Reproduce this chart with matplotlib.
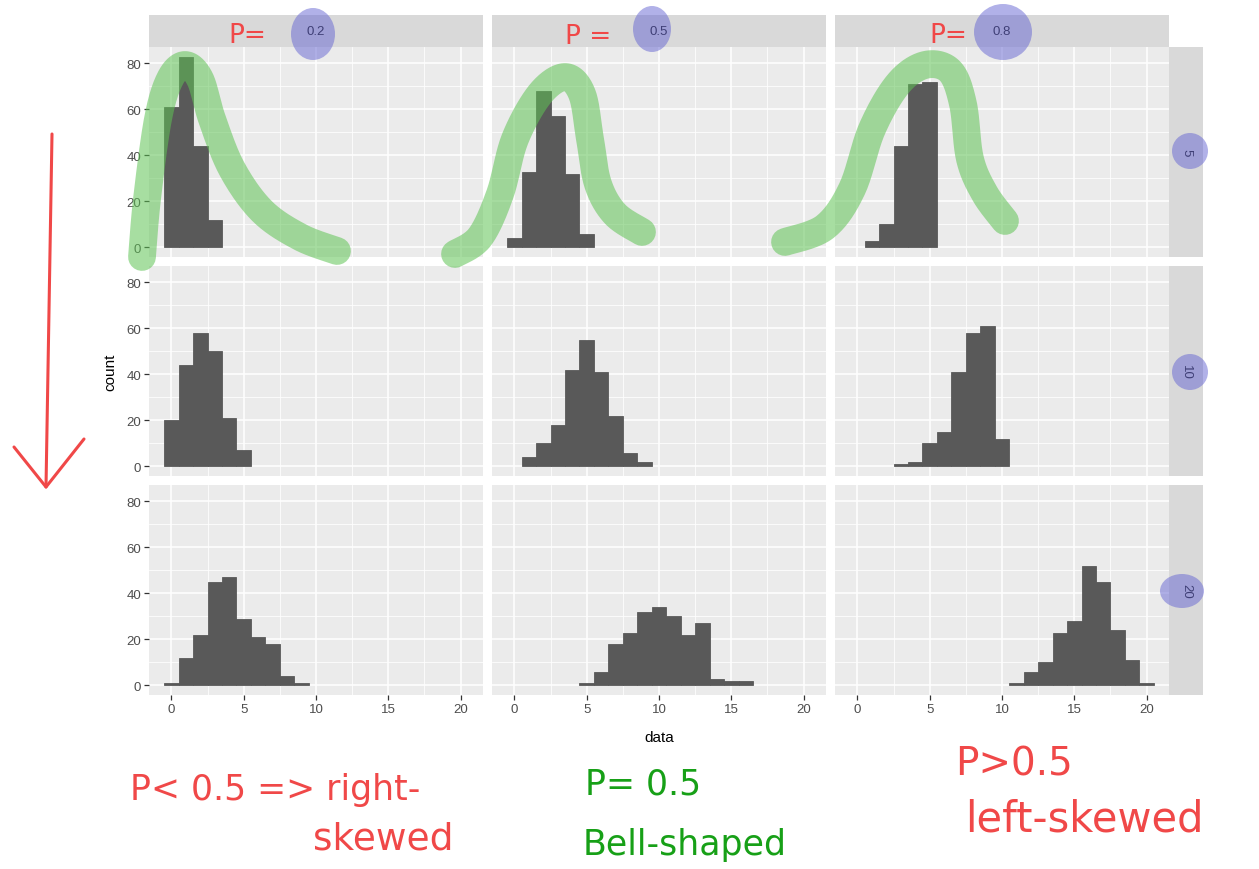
import numpy as np
import matplotlib
matplotlib.use("Agg")
import matplotlib.pyplot as plt
from matplotlib.patches import Ellipse

# ---------------- data (counts per integer value, binwidth 1) ----------------
p_labels = ["0.2", "0.5", "0.8"]
n_labels = ["5", "10", "20"]

# start value of first bar for each (n, p) facet
starts = {
    ("5", "0.2"): 0, ("5", "0.5"): 0, ("5", "0.8"): 1,
    ("10", "0.2"): 0, ("10", "0.5"): 1, ("10", "0.8"): 3,
    ("20", "0.2"): 0, ("20", "0.5"): 5, ("20", "0.8"): 11,
}
counts_n5_p02 = [61, 83, 44, 12]
counts_n5_p05 = [4, 33, 68, 57, 32, 6]
counts_n5_p08 = [3, 10, 44, 71, 72]
counts_n10_p02 = [20, 44, 58, 50, 21, 7]
counts_n10_p05 = [4, 10, 18, 42, 55, 41, 22, 6, 2]
counts_n10_p08 = [1, 2, 10, 15, 41, 58, 61, 12]
counts_n20_p02 = [1, 12, 22, 45, 47, 29, 21, 18, 4, 1]
counts_n20_p05 = [1, 6, 18, 23, 32, 34, 30, 22, 27, 3, 2, 2]
counts_n20_p08 = [1, 6, 10, 23, 28, 52, 45, 24, 11, 1]
counts = {
    ("5", "0.2"): counts_n5_p02, ("5", "0.5"): counts_n5_p05, ("5", "0.8"): counts_n5_p08,
    ("10", "0.2"): counts_n10_p02, ("10", "0.5"): counts_n10_p05, ("10", "0.8"): counts_n10_p08,
    ("20", "0.2"): counts_n20_p02, ("20", "0.5"): counts_n20_p05, ("20", "0.8"): counts_n20_p08,
}
x_ticks = [0, 5, 10, 15, 20]
y_ticks = [0, 20, 40, 60, 80]

plt.rcParams["font.family"] = ["Liberation Sans", "DejaVu Sans"]

# ---------------- layout ----------------
W, H = 1259, 870
fig = plt.figure(figsize=(W / 100, H / 100), dpi=100)
fig.patch.set_facecolor("white")

def rect(x0, y0, x1, y1):
    return [x0 / W, 1 - y1 / H, (x1 - x0) / W, (y1 - y0) / H]

col_x = [(149, 483), (492, 826), (835, 1169)]
row_y = [(48, 258), (267, 477), (486, 696)]
strip_top = (16, 48)
strip_right = (1169, 1203)

panel_bg = "#EBEBEB"
strip_bg = "#D9D9D9"
bar_col = "#595959"
txt_grey = "#4D4D4D"

ymax = max(max(v) for v in counts.values())
ylim = (-0.05 * ymax, 1.05 * ymax)
xlim = (-0.5 - 0.05 * 21, 20.5 + 0.05 * 21)

for r, nl in enumerate(n_labels):
    for c, pl in enumerate(p_labels):
        x0, x1 = col_x[c]
        y0, y1 = row_y[r]
        ax = fig.add_axes(rect(x0, y0, x1, y1))
        ax.set_facecolor(panel_bg)
        for s in ax.spines.values():
            s.set_visible(False)
        ax.set_xlim(*xlim)
        ax.set_ylim(*ylim)
        ax.set_xticks(x_ticks)
        ax.set_yticks(y_ticks)
        ax.set_xticks([2.5, 7.5, 12.5, 17.5], minor=True)
        ax.set_yticks([10, 30, 50, 70], minor=True)
        ax.grid(True, which="major", color="white", lw=1.1)
        ax.grid(True, which="minor", color="white", lw=0.55)
        ax.set_axisbelow(True)
        ax.tick_params(which="minor", length=0)
        ax.tick_params(which="major", length=3.5, width=0.9, color="#333333",
                       labelsize=9.5, labelcolor=txt_grey, pad=2)
        vals = counts[(nl, pl)]
        xs = np.arange(starts[(nl, pl)], starts[(nl, pl)] + len(vals))
        ax.bar(xs, vals, width=1.0, color=bar_col, edgecolor=bar_col,
               linewidth=0.6, zorder=2)
        if c != 0:
            ax.tick_params(axis="y", left=False, labelleft=False)
        if r != 2:
            ax.tick_params(axis="x", bottom=False, labelbottom=False)

# strips
for c, pl in enumerate(p_labels):
    sa = fig.add_axes(rect(col_x[c][0], strip_top[0], col_x[c][1], strip_top[1]))
    sa.set_facecolor(strip_bg)
    sa.set_xticks([]); sa.set_yticks([])
    for s in sa.spines.values():
        s.set_visible(False)
    sa.text(0.5, 0.5, pl, ha="center", va="center", fontsize=9.5,
            color="#1A1A1A", transform=sa.transAxes)
for r, nl in enumerate(n_labels):
    sa = fig.add_axes(rect(strip_right[0], row_y[r][0], strip_right[1], row_y[r][1]))
    sa.set_facecolor(strip_bg)
    sa.set_xticks([]); sa.set_yticks([])
    for s in sa.spines.values():
        s.set_visible(False)
    sa.text(0.5, 0.5, nl, ha="center", va="center", fontsize=9.5, rotation=-90,
            color="#1A1A1A", transform=sa.transAxes)

# axis titles
fig.text(110 / W, 1 - 372 / H, "count", rotation=90, ha="center", va="center",
         fontsize=11, color="black")
fig.text(659 / W, 1 - 738 / H, "data", ha="center", va="center",
         fontsize=11, color="black")

# ---------------- hand-drawn annotations (overlay) ----------------
ov = fig.add_axes([0, 0, 1, 1], zorder=10)
ov.set_xlim(0, W)
ov.set_ylim(H, 0)
ov.axis("off")
ov.patch.set_alpha(0)

def catmull(pts, n=20):
    pts = np.asarray(pts, float)
    P = np.vstack([pts[0], pts, pts[-1]])
    out = []
    for i in range(1, len(P) - 2):
        p0, p1, p2, p3 = P[i - 1], P[i], P[i + 1], P[i + 2]
        t = np.linspace(0, 1, n)[:, None]
        out.append(0.5 * ((2 * p1) + (-p0 + p2) * t + (2 * p0 - 5 * p1 + 4 * p2 - p3) * t ** 2
                          + (-p0 + 3 * p1 - 3 * p2 + p3) * t ** 3))
    return np.vstack(out)

green_rgba = (95 / 255, 195 / 255, 85 / 255, 0.55)
strokes = [
    [(142, 258), (147, 200), (158, 120), (170, 80), (185, 66), (200, 80), (212, 120),
     (232, 170), (262, 212), (300, 238), (337, 252)],
    [(455, 255), (480, 238), (500, 195), (515, 140), (540, 95), (565, 78), (582, 95),
     (590, 140), (598, 185), (615, 215), (642, 233)],
    [(785, 243), (825, 228), (852, 190), (872, 130), (898, 85), (925, 66), (950, 72),
     (963, 105), (970, 160), (985, 195), (1005, 222)],
]
for pts in strokes:
    cv = catmull(pts)
    ov.plot(cv[:, 0], cv[:, 1], color=green_rgba, lw=20, solid_capstyle="round",
            solid_joinstyle="round")

blue_rgba = (100 / 255, 100 / 255, 210 / 255, 0.5)
for (cx, cy, w, h) in [(313, 35, 44, 52), (652, 30, 38, 46), (1003, 33, 58, 56),
                       (1190, 152, 36, 36), (1190, 373, 36, 36), (1182, 592, 44, 34)]:
    ov.add_patch(Ellipse((cx, cy), w, h, color=blue_rgba, lw=0))

red = "#F04848"
green_txt = "#17A017"
hand = dict(family="DejaVu Sans")
ov.text(247, 36, "P=", color=red, fontsize=19, ha="center", va="center", **hand)
ov.text(588, 37, "P =", color=red, fontsize=19, ha="center", va="center", **hand)
ov.text(948, 36, "P=", color=red, fontsize=19, ha="center", va="center", **hand)

ov.text(130, 790, "P< 0.5 => right-", color=red, fontsize=25, ha="left", va="center", **hand)
ov.text(313, 840, "skewed", color=red, fontsize=27, ha="left", va="center", **hand)
ov.text(585, 785, "P= 0.5", color=green_txt, fontsize=25, ha="left", va="center", **hand)
ov.text(583, 845, "Bell-shaped", color=green_txt, fontsize=25, ha="left", va="center", **hand)
ov.text(955, 765, "P>0.5", color=red, fontsize=28, ha="left", va="center", **hand)
ov.text(965, 820, "left-skewed", color=red, fontsize=30, ha="left", va="center",
        clip_on=False, **hand)

# red arrow on the left
ov.plot([52, 46], [135, 488], color=red, lw=2.2, solid_capstyle="round")
ov.plot([14, 46, 84], [448, 488, 440], color=red, lw=2.2, solid_capstyle="round",
        solid_joinstyle="round")

fig.savefig("out.png", dpi=100)
